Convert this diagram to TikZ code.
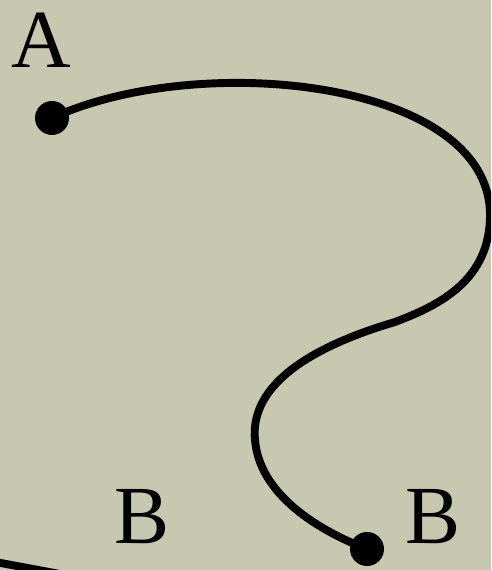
\documentclass[tikz,border=0pt]{standalone}
\usepackage{fontspec}
\setmainfont{Liberation Serif}
\usetikzlibrary{positioning}
\definecolor{paperBeige}{RGB}{200,200,177}

\begin{document}
\begin{tikzpicture}[
  x=0.02cm, y=-0.02cm,
  enddot/.style={
    circle,
    fill=black,
    inner sep=0pt,
    minimum size=0.68cm
  },
  pointlabel/.style={
    inner sep=0pt,
    font=\fontsize{47}{50}\selectfont
  },
  wire/.style={line width=4.5pt,black}
]
  \fill[paperBeige] (0,0) rectangle (491,570);
  \useasboundingbox (0,0) rectangle (491,570);
  \clip (0,0) rectangle (491,570);
  \node[enddot] (dotA) at (52,118) {};
  \node[enddot] (dotB) at (367,549) {};
  \node[pointlabel] (labelA) at (41,40) {A};
  \node[pointlabel] (labelB) at (142,517) {B};
  \node[pointlabel] (labelBB) at (433,517) {B};
  \coordinate (edgeL) at (-10,561);
  \coordinate (edgeR) at (60,574);
  \draw[wire] (dotA.center) .. controls (200,50) and (490,80) .. (490,215)
    .. controls (490,280) and (440,305) .. (395,322)
    .. controls (300,350) and (250,390) .. (255,440)
    .. controls (260,500) and (330,535) .. (dotB.center);
  \draw[wire] (edgeL) -- (edgeR);
\end{tikzpicture}
\end{document}
